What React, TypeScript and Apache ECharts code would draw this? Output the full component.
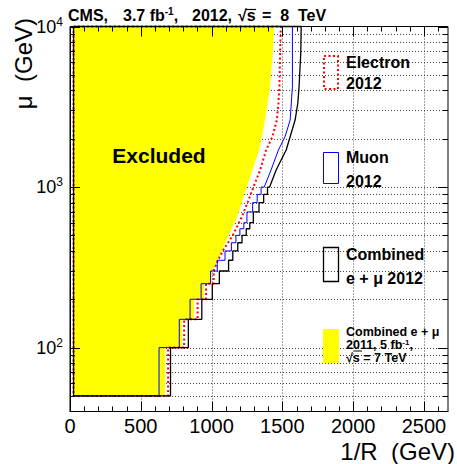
import React, { useEffect, useRef } from 'react';
import * as echarts from 'echarts';

const FONT = '"Liberation Sans", Arial, Helvetica, sans-serif';

// Axis ranges: 1/R (GeV) horizontally, mu (GeV) on a log scale vertically
const X_MIN = 0;
const X_MAX = 2670;
const Y_MIN = 40;
const Y_MAX = 10000;

const xTickValues = [0, 500, 1000, 1500, 2000, 2500];
const yDecades = [100, 1000, 10000];

// Exclusion contours, vertices as [1/R, mu] in GeV
const electron2012: [number, number][] = [
  [25, 10000], [25, 50], [693, 50], [693, 100], [806, 100], [806, 150], [901, 150], [901, 200],
  [961, 200], [961, 250], [1015, 250], [1015, 300], [1045, 350], [1083, 405], [1150, 500],
  [1213, 650], [1261, 830], [1307, 1059], [1343, 1277], [1385, 1700], [1430, 2058],
  [1461, 2615], [1472, 3320], [1479, 4217], [1484, 6810], [1489, 10000], [25, 10000],
];

const muon2012: [number, number][] = [
  [25, 10000], [25, 50], [629, 50], [629, 100], [772, 100], [772, 150], [848, 150], [848, 200],
  [926, 200], [926, 250], [993, 250], [993, 300], [1040, 300], [1040, 350], [1095, 350],
  [1095, 400], [1140, 400], [1140, 450], [1172, 450], [1172, 500], [1200, 500], [1200, 550],
  [1228, 550], [1228, 600], [1250, 600], [1250, 700], [1290, 700], [1290, 800], [1322, 800],
  [1322, 900], [1350, 900], [1350, 1000], [1372, 1000], [1420, 1277], [1472, 1700],
  [1519, 2058], [1555, 2615], [1571, 4217], [1571, 10000], [25, 10000],
];

const combined2012: [number, number][] = [
  [25, 10000], [25, 50], [710, 50], [710, 100], [836, 100], [836, 150], [931, 150], [931, 200],
  [1005, 200], [1005, 250], [1055, 250], [1055, 300], [1120, 300], [1120, 350], [1150, 350],
  [1150, 400], [1185, 400], [1185, 450], [1215, 450], [1215, 500], [1245, 500], [1245, 550],
  [1270, 550], [1270, 600], [1295, 600], [1295, 700], [1335, 700], [1335, 800], [1368, 800],
  [1368, 900], [1395, 900], [1395, 1000], [1410, 1000], [1456, 1277], [1527, 1700],
  [1555, 2058], [1590, 2615], [1609, 3320], [1618, 4217], [1630, 6810], [1633, 10000],
  [25, 10000],
];

const combined2011: [number, number][] = [
  [30, 10000], [30, 50], [671, 50], [671, 100], [791, 100], [791, 150], [876, 150], [876, 200],
  [947, 200], [947, 250], [1000, 250], [1000, 300], [1030, 330], [1074, 405], [1180, 650],
  [1258, 1059], [1336, 1700], [1378, 2615], [1413, 4217], [1432, 6810], [1442, 10000],
];

// Tick and grid positions
const xMinorTicks: number[] = [];
for (let v = 100; v < X_MAX; v += 100) if (v % 500 !== 0) xMinorTicks.push(v);
const yMinorTicks: number[] = [];
for (const d of [10, 100, 1000]) {
  for (let m = 2; m <= 9; m++) {
    const v = m * d;
    if (v > Y_MIN && v < Y_MAX) yMinorTicks.push(v);
  }
}
const xGridValues = xTickValues.filter((v) => v > X_MIN);
const yGridValues = [...yMinorTicks, 100, 1000].sort((a, b) => a - b);

function dottedGrid(params: any, api: any) {
  const cs = params.coordSys;
  const x0 = cs.x;
  const x1 = cs.x + cs.width;
  const y0 = cs.y;
  const y1 = cs.y + cs.height;
  const style = { stroke: '#444', lineWidth: 1, lineDash: [1, 2] };
  const children: any[] = [];
  xGridValues.forEach((v) => {
    const p = Math.round(api.coord([v, Y_MIN])[0]) + 0.5;
    children.push({ type: 'line', shape: { x1: p, y1: y0, x2: p, y2: y1 }, style });
  });
  yGridValues.forEach((v) => {
    const p = Math.round(api.coord([X_MIN, v])[1]) + 0.5;
    children.push({ type: 'line', shape: { x1: x0, y1: p, x2: x1, y2: p }, style });
  });
  return { type: 'group', children };
}

function filledRegion(points: [number, number][], color: string) {
  return (_params: any, api: any) => ({
    type: 'polygon',
    shape: { points: points.map((p) => api.coord(p)) },
    style: { fill: color, stroke: 'none' },
  });
}

function frameTicks(params: any, api: any) {
  const cs = params.coordSys;
  const x0 = cs.x;
  const x1 = cs.x + cs.width;
  const y0 = cs.y;
  const y1 = cs.y + cs.height;
  const style = { stroke: '#000', lineWidth: 1 };
  const children: any[] = [];
  const addX = (v: number, len: number) => {
    const p = Math.round(api.coord([v, Y_MIN])[0]) + 0.5;
    children.push({ type: 'line', shape: { x1: p, y1: y1, x2: p, y2: y1 - len }, style });
    children.push({ type: 'line', shape: { x1: p, y1: y0, x2: p, y2: y0 + len }, style });
  };
  const addY = (v: number, len: number) => {
    const p = Math.round(api.coord([X_MIN, v])[1]) + 0.5;
    children.push({ type: 'line', shape: { x1: x0, y1: p, x2: x0 + len, y2: p }, style });
    children.push({ type: 'line', shape: { x1: x1, y1: p, x2: x1 - len, y2: p }, style });
  };
  xTickValues.forEach((v) => addX(v, 10));
  xMinorTicks.forEach((v) => addX(v, 5));
  yDecades.forEach((v) => addY(v, 10));
  yMinorTicks.forEach((v) => addY(v, 5));
  children.push({
    type: 'rect',
    shape: { x: x0, y: y0, width: x1 - x0, height: y1 - y0 },
    style: { fill: 'none', stroke: '#000', lineWidth: 1 },
  });
  return { type: 'group', children };
}

function contour(name: string, data: [number, number][], lineStyle: any, z: number) {
  return {
    name,
    type: 'line',
    data,
    z,
    symbol: 'none',
    showSymbol: false,
    clip: false,
    silent: true,
    smooth: false,
    lineStyle,
  };
}

const txt = (text: string, x: number, y: number, size: number, bold = true, extra: any = {}) => {
  const { align = 'left', rich, ...rest } = extra;
  return {
    type: 'text',
    x,
    y,
    silent: true,
    z: 20,
    ...rest,
    style: {
      text,
      font: `${bold ? 'bold ' : ''}${size}px ${FONT}`,
      fill: '#000',
      align,
      verticalAlign: 'middle',
      textAlign: align,
      textVerticalAlign: 'middle',
      ...(rich ? { rich } : {}),
    },
  };
};

const hline = (x1: number, x2: number, y: number, width = 1.2) => ({
  type: 'line',
  z: 20,
  silent: true,
  shape: { x1, y1: y, x2, y2: y },
  style: { stroke: '#000', lineWidth: width },
});

const supRich = (size: number, supSize: number, lh: number) => ({
  a: { font: `bold ${size}px ${FONT}`, fill: '#000', lineHeight: lh },
  b: { font: `bold ${supSize}px ${FONT}`, fill: '#000', lineHeight: lh, verticalAlign: 'top' },
});

const option: any = {
  animation: false,
  backgroundColor: '#ffffff',
  grid: { left: 70, top: 26.5, right: 9, bottom: 52.5, outerBoundsMode: 'none', containLabel: false },
  xAxis: {
    type: 'value',
    min: X_MIN,
    max: X_MAX,
    interval: 500,
    axisLine: { show: true, lineStyle: { color: '#000', width: 1 } },
    axisTick: { show: false },
    splitLine: { show: false },
    axisLabel: {
      showMaxLabel: false,
      fontSize: 20,
      fontFamily: FONT,
      color: '#000',
      margin: 4,
      formatter: (v: number) => String(v),
    },
  },
  yAxis: {
    type: 'log',
    logBase: 10,
    min: Y_MIN,
    max: Y_MAX,
    axisLine: { show: true, lineStyle: { color: '#000', width: 1 } },
    axisTick: { show: false },
    splitLine: { show: false },
    axisLabel: {
      showMinLabel: false,
      margin: 7,
      formatter: (v: number) => `{b|10}{s|${Math.round(Math.log10(v))}}`,
      rich: {
        b: { fontSize: 18, fontFamily: FONT, color: '#000', lineHeight: 22 },
        s: { fontSize: 12, fontFamily: FONT, color: '#000', verticalAlign: 'top', lineHeight: 12 },
      },
    },
  },
  series: [
    {
      type: 'custom',
      name: 'grid',
      z: 1,
      silent: true,
      clip: false,
      data: [[X_MIN, 100]],
      renderItem: dottedGrid,
    },
    {
      type: 'custom',
      name: 'Combined e + μ 2011',
      z: 2,
      silent: true,
      clip: false,
      data: [[X_MIN, 100]],
      renderItem: filledRegion(combined2011, '#ffff00'),
    },
    contour('Electron 2012', electron2012, { color: '#ff0000', width: 2, type: [2, 2.5] }, 3),
    contour('Muon 2012', muon2012, { color: '#0000ff', width: 1 }, 4),
    contour('Combined e + μ 2012', combined2012, { color: '#000000', width: 1.3 }, 5),
    {
      type: 'custom',
      name: 'frame',
      z: 10,
      silent: true,
      clip: false,
      data: [[X_MIN, 100]],
      renderItem: frameTicks,
    },
  ],
  graphic: [
    // header
    txt('CMS,', 68, 15.5, 16),
    txt('{a|3.7 fb}{b|-1}{a|,}', 123, 15.5, 16, true, { rich: supRich(16, 10, 18) }),
    txt('2012,', 192, 15.5, 16),
    txt('√s', 238, 15.5, 16),
    hline(246, 256, 9.5),
    txt('=  8  TeV', 262, 15.5, 16),
    // axis titles
    txt('1/R  (GeV)', 455, 451.5, 24, false, { align: 'right' }),
    txt('μ  (GeV)', 23.5, 18, 24, false, { align: 'right', rotation: Math.PI / 2 }),
    // region label
    txt('Excluded', 159, 155, 21, true, { align: 'center' }),
    // legend
    {
      type: 'rect', z: 20, silent: true,
      shape: { x: 324, y: 56, width: 14, height: 33 },
      style: { fill: 'none', stroke: '#ff0000', lineWidth: 2, lineDash: [2, 2.5] },
    },
    txt('Electron', 346, 62.5, 16),
    txt('2012', 346, 83.5, 16),
    {
      type: 'rect', z: 20, silent: true,
      shape: { x: 323.5, y: 152.5, width: 15, height: 31 },
      style: { fill: 'none', stroke: '#0000ff', lineWidth: 1 },
    },
    txt('Muon', 346, 157.5, 16),
    txt('2012', 346, 181, 16),
    {
      type: 'rect', z: 20, silent: true,
      shape: { x: 323.5, y: 247.5, width: 15, height: 34 },
      style: { fill: 'none', stroke: '#000', lineWidth: 1.3 },
    },
    txt('Combined', 346, 254, 16),
    txt('e + μ 2012', 346, 278, 16),
    {
      type: 'rect', z: 20, silent: true,
      shape: { x: 323, y: 329, width: 16, height: 34 },
      style: { fill: '#ffff00', stroke: 'none' },
    },
    txt('{a|Combined e + μ}\n{a|2011, 5 fb}{b|-1}{a|,}\n{a|√s = 7 TeV}', 346, 344.5, 12.5, true, {
      rich: supRich(12.5, 8, 13),
    }),
    hline(354, 362, 351, 1),
  ],
};

export default function App() {
  const ref = useRef<HTMLDivElement>(null);
  useEffect(() => {
    if (!ref.current) return;
    const chart = echarts.init(ref.current, null, { renderer: 'svg' });
    chart.setOption(option);
    return () => chart.dispose();
  }, []);
  return (
    <div
      ref={ref}
      style={{ position: 'fixed', left: 0, top: 0, width: 457, height: 464, background: '#fff' }}
    />
  );
}
